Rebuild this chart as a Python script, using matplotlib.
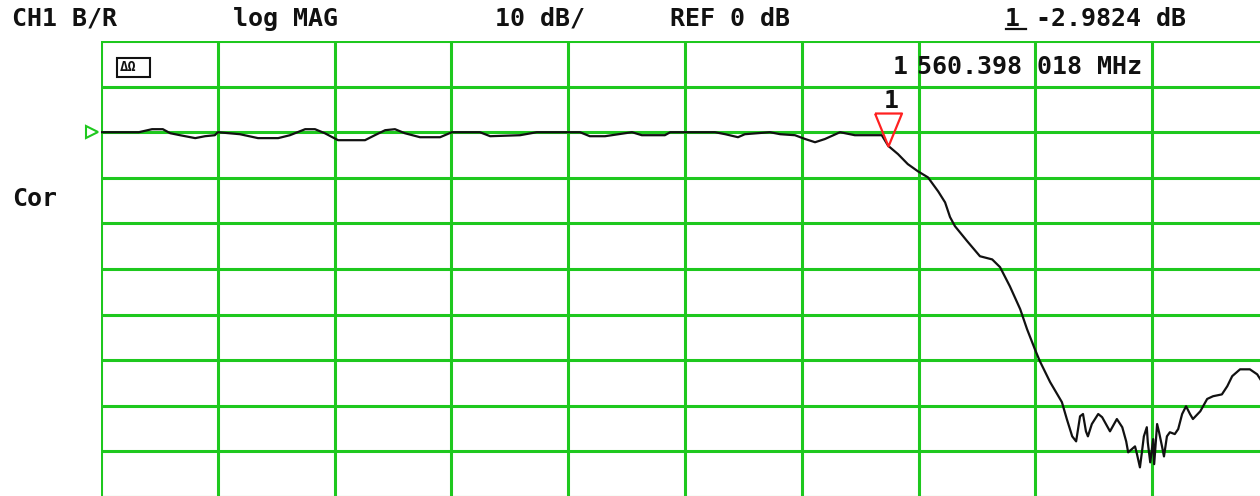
import matplotlib
matplotlib.use("Agg")
import matplotlib.pyplot as plt
from matplotlib.lines import Line2D
from matplotlib.patches import Rectangle

# sweep settings (CH1 B/R, log MAG, 10 dB/div, REF 0 dB)
f_start, f_stop = 1400.0, 1638.0
ref_level = 0.0
db_per_div = 10.0
ref_pos = 8          # reference line, divisions from the bottom

# measured trace, frequency in MHz and magnitude in dB
freq_mhz = [1400.0, 1407.7, 1410.4, 1412.6, 1414.1, 1416.1, 1419.2, 1421.2, 1423.2, 1423.8,
            1428.3, 1432.0, 1436.1, 1438.5, 1441.6, 1443.6, 1445.6, 1448.3, 1453.8, 1455.8,
            1457.9, 1459.9, 1461.9, 1465.0, 1469.1, 1471.5, 1477.2, 1479.3, 1485.4, 1488.8,
            1492.5, 1497.6, 1499.6, 1502.7, 1508.2, 1510.2, 1514.9, 1516.0, 1525.1, 1527.2,
            1529.8, 1531.2, 1536.3, 1538.4, 1541.4, 1543.5, 1545.5, 1547.5, 1550.6, 1553.6,
            1559.1, 1560.4, 1562.4, 1564.4, 1566.5, 1568.5, 1570.6, 1572.0, 1573.0, 1574.0,
            1576.5, 1579.1, 1581.6, 1583.2, 1585.2, 1587.3, 1588.7, 1590.3, 1591.3, 1593.4,
            1595.8, 1596.8, 1597.9, 1598.7, 1599.5, 1600.1, 1600.7, 1601.1, 1601.9, 1603.2,
            1604.0, 1605.6, 1607.0, 1608.1, 1608.9, 1609.3, 1610.7, 1611.1, 1611.7, 1612.1,
            1612.5, 1613.1, 1613.3, 1613.8, 1614.4, 1614.6, 1615.2, 1615.6, 1616.2, 1616.6,
            1617.2, 1617.8, 1618.8, 1619.5, 1620.3, 1621.1, 1621.9, 1622.5, 1624.0, 1625.4,
            1626.6, 1628.4, 1629.5, 1630.5, 1632.1, 1634.1, 1635.6, 1636.6, 1638.0]
mag_db = [0.0, 0.0, 0.66, 0.66, -0.22, -0.66, -1.3, -0.88, -0.66, 0.0,
          -0.44, -1.3, -1.3, -0.66, 0.66, 0.66, -0.22, -1.75, -1.75, -0.66,
          0.44, 0.66, -0.22, -1.1, -1.1, 0.0, 0.0, -0.88, -0.66, 0.0,
          0.0, 0.0, -0.88, -0.88, 0.0, -0.66, -0.66, 0.0, 0.0, -0.44,
          -1.1, -0.44, 0.0, -0.44, -0.66, -1.5, -2.2, -1.5, 0.0, -0.66,
          -0.66, -2.98, -4.8, -7.0, -8.6, -9.9, -13.0, -15.4, -18.6, -20.6,
          -23.9, -27.2, -27.9, -29.6, -33.8, -38.8, -43.2, -47.6, -50.2, -54.8,
          -59.2, -62.9, -66.7, -67.8, -62.3, -61.8, -65.6, -66.7, -64.0, -61.8,
          -62.5, -65.6, -62.9, -64.7, -67.8, -70.2, -68.9, -70.6, -73.5, -70.2,
          -66.7, -64.7, -68.0, -72.4, -67.3, -72.8, -64.0, -65.8, -68.9, -71.1,
          -66.7, -65.8, -66.2, -65.1, -61.8, -60.1, -61.8, -62.9, -61.2, -58.5,
          -57.9, -57.5, -55.7, -53.5, -52.0, -52.0, -53.1, -54.8, -56.8]

marker_freq = 1560.398018
marker_db = -2.9824

header = [("CH1 B/R", 12), ("log MAG", 233), ("10 dB/", 495), ("REF 0 dB", 670)]

W, H = 1260, 496
fig = plt.figure(figsize=(W / 100, H / 100), dpi=100)
fig.patch.set_facecolor("white")

# graticule runs a little past the right/bottom edge of the screen capture
ax = fig.add_axes([101 / W, 1 - 497 / H, 1168 / W, 456 / H])
ax.set_xlim(f_start, f_stop)
y_top = ref_level + (10 - ref_pos) * db_per_div
y_bot = ref_level - ref_pos * db_per_div
ax.set_ylim(y_bot, y_top)
ax.set_facecolor("white")
for s in ax.spines.values():
    s.set_visible(False)
ax.set_xticks([])
ax.set_yticks([])

green = "#1ec81e"
span = f_stop - f_start
for i in range(11):
    ax.axvline(f_start + i * span / 10, color=green, lw=2.2, zorder=1)
    ax.axhline(y_bot + i * db_per_div, color=green, lw=2.2, zorder=1)

ax.plot(freq_mhz, mag_db, color="#111111", lw=1.6, zorder=3)

# marker 1: hollow red triangle with its tip on the trace
tri = [(-13.5, 33), (13.5, 33), (0, 0), (-13.5, 33)]
ax.plot([marker_freq], [marker_db], marker=tri, ms=47.5, mfc="none", mec="#ff2020",
        mew=1.6, ls="none", zorder=4, clip_on=False)

# reference level pointer at the left edge
ax.plot([-0.008], [ref_level], transform=ax.get_yaxis_transform(), marker=">",
        ms=8, mfc="white", mec=green, mew=1.5, clip_on=False, zorder=5)

font = dict(family="DejaVu Sans Mono", fontweight="bold", fontsize=18, color="#111111",
            ha="left", va="center")


def put(text, x, y, **kw):
    opts = dict(font)
    opts.update(kw)
    fig.text(x / W, 1 - y / H, text, **opts)


for label, x in header:
    put(label, x, 19)
put("1", 1005, 19)
put("-2.9824 dB", 1036, 19)
fig.add_artist(Line2D([1006 / W, 1026 / W], [1 - 29 / H, 1 - 29 / H], color="#111111", lw=1.6))

put("1", 893, 67)
put("560.398 018 MHz", 917, 67)
put("Cor", 12, 199)
put("1", 891, 101, ha="center")

# correction status badge
fig.add_artist(Rectangle((117 / W, 1 - 77 / H), 33 / W, 19 / H, fill=False, lw=1.5,
                         edgecolor="#111111"))
put("ΔΩ", 120, 67, fontsize=10)

fig.savefig("out.png", dpi=100)
